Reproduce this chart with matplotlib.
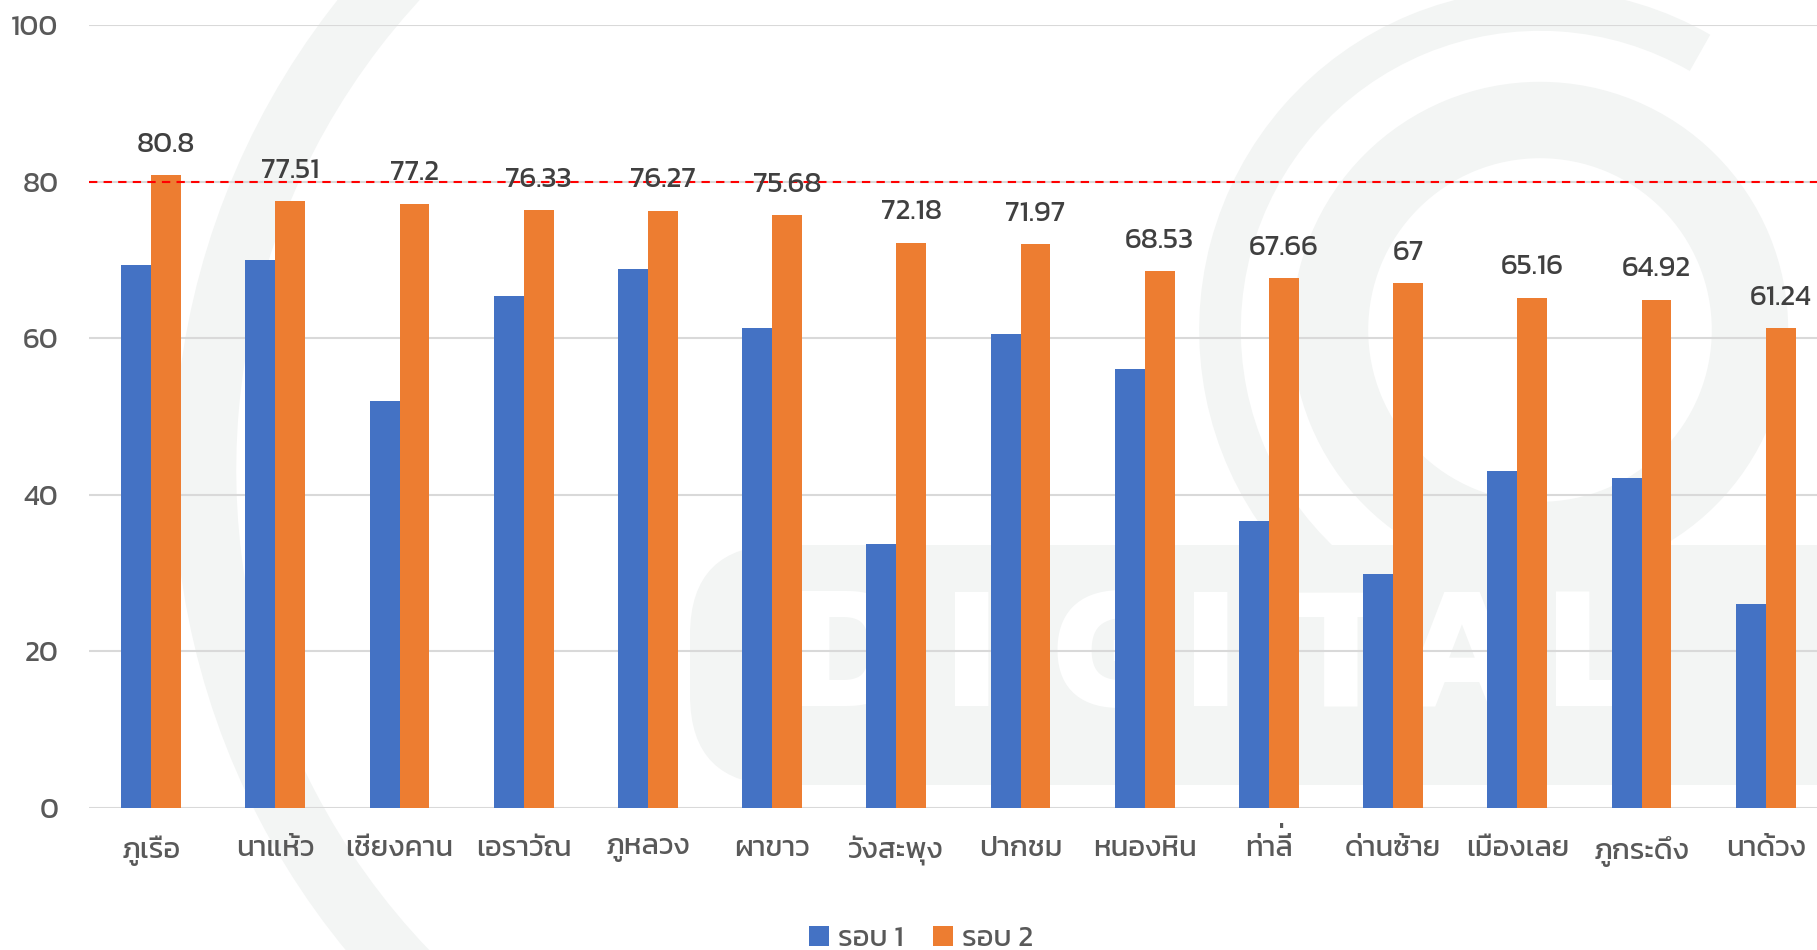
import numpy as np
import matplotlib
matplotlib.use("Agg")
import matplotlib.pyplot as plt
from matplotlib import font_manager
from matplotlib.patches import Arc, FancyBboxPatch
import glob

# Thai labels need a Thai-capable font; Kanit is installed with the google fonts
for f in glob.glob("/usr/share/fonts/truetype/google-fonts/Kanit-*.ttf"):
    font_manager.fontManager.addfont(f)
plt.rcParams['font.family'] = ['Kanit', 'DejaVu Sans']

# --- data ---
districts = ['ภูเรือ', 'นาแห้ว', 'เชียงคาน', 'เอราวัณ', 'ภูหลวง', 'ผาขาว', 'วังสะพุง',
             'ปากชม', 'หนองหิน', 'ท่าลี่', 'ด่านซ้าย', 'เมืองเลย', 'ภูกระดึง', 'นาด้วง']
round1 = [69.3, 70.0, 52.0, 65.4, 68.9, 61.3, 33.7, 60.5, 56.1, 36.7, 29.9, 43.0, 42.2, 26.1]
round2 = [80.8, 77.51, 77.2, 76.33, 76.27, 75.68, 72.18, 71.97, 68.53, 67.66, 67, 65.16, 64.92, 61.24]
series_names = ['รอบ 1', 'รอบ 2']
target = 80
yticks = [0, 20, 40, 60, 80, 100]

BLUE = '#4472C4'
ORANGE = '#ED7D31'
WM = '#f3f5f4'
FS = 21
TONE_MARKS = '\u0E48\u0E49\u0E4A\u0E4B'
UPPER_VOWELS = '\u0E31\u0E34\u0E35\u0E36\u0E37'

W, H = 1817, 950
fig = plt.figure(figsize=(W / 100, H / 100), dpi=100)
fig.patch.set_facecolor('white')

# faint logo watermark behind the chart (pixel coordinates)
wm_ax = fig.add_axes([0, 0, 1, 1], zorder=-5)
wm_ax.set_xlim(0, W)
wm_ax.set_ylim(H, 0)
wm_ax.axis('off')
wm_ax.add_patch(Arc((930, 470), 1450, 1450, theta1=120, theta2=250, color=WM, lw=45))
wm_ax.add_patch(Arc((1540, 330), 420, 420, theta1=0, theta2=360, color=WM, lw=55))
wm_ax.add_patch(Arc((1540, 330), 640, 640, theta1=90, theta2=300, color=WM, lw=30))
wm_ax.add_patch(FancyBboxPatch((690, 545), 1300, 240, boxstyle='round,pad=0,rounding_size=90',
                               fc=WM, ec='none'))
for ch, cx in zip('DIGITAL', [848, 972, 1110, 1211, 1340, 1462, 1595]):
    wm_ax.text(cx, 665, ch, fontsize=128, fontweight='bold', color='white',
               ha='center', va='center', family='Kanit')

ax = fig.add_axes([89 / W, 1 - 808 / H, 14 * 124.2 / W, (808 - 25) / H])
ax.patch.set_alpha(0)

x = np.arange(len(districts))
bw = 0.2415
ax.bar(x - bw / 2, round1, bw, color=BLUE, label=series_names[0], zorder=2)
bars2 = ax.bar(x + bw / 2, round2, bw, color=ORANGE, label=series_names[1], zorder=2)

for rect, v in zip(bars2, round2):
    ax.annotate(f'{v:g}', (rect.get_x() + rect.get_width() / 2, v),
                xytext=(0, 22), textcoords='offset points', ha='center', va='center',
                fontsize=FS, color='#404040', zorder=4)

ax.axhline(target, color='#ff0000', lw=1.5, dashes=(4, 3), zorder=3)

ax.set_xlim(-0.5, len(districts) - 0.5)
ax.set_ylim(0, 100)
ax.set_yticks(yticks)
ax.yaxis.grid(True, color='#d9d9d9', lw=1.5, zorder=0)
ax.set_axisbelow(True)
for s in ax.spines.values():
    s.set_visible(False)
ax.set_xticks(x)
ax.set_xticklabels(districts)
ax.tick_params(axis='both', length=0, labelsize=FS, labelcolor='#595959')
ax.tick_params(axis='y', pad=22)
ax.tick_params(axis='x', pad=20)

# matplotlib has no Thai shaping, so a tone mark sitting on an upper vowel
# (ลี่) collides with it; draw the mark again, lifted above the vowel
for lab, name in zip(ax.get_xticklabels(), districts):
    for i in range(1, len(name)):
        if name[i] in TONE_MARKS and name[i - 1] in UPPER_VOWELS:
            ax.annotate(name[i], xy=(0.84, 0.0), xycoords=lab, xytext=(0, 7),
                        textcoords='offset points', ha='center', va='bottom',
                        fontsize=FS, color='#595959')

fig.legend(loc='center', bbox_to_anchor=(921 / W, 1 - 939 / H), ncol=2, frameon=False,
           handlelength=0.7, handleheight=0.7, handletextpad=0.3,
           columnspacing=1.0, labelcolor='#595959', prop={'size': FS})

fig.savefig('out.png', dpi=100, facecolor='white')
